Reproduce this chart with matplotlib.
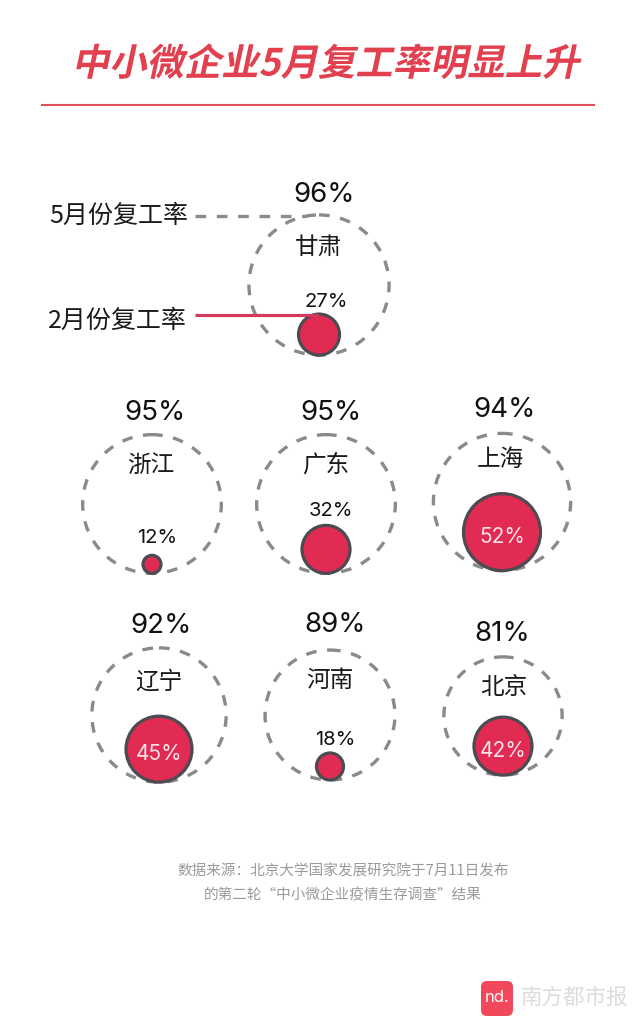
import matplotlib
matplotlib.use("Agg")
import matplotlib.pyplot as plt
from matplotlib.patches import Circle, FancyBboxPatch
from matplotlib.patheffects import AbstractPathEffect
from matplotlib.transforms import Affine2D

CJK = ['Noto Sans CJK SC', 'DejaVu Sans']
LAT = ['Inter', 'DejaVu Sans']

title = "中小微企业5月复工率明显上升"
cities = ["甘肃", "浙江", "广东", "上海", "辽宁", "河南", "北京"]
may = [96, 95, 95, 94, 92, 89, 81]
feb = [27, 12, 32, 52, 45, 18, 42]
legend_may = "5月份复工率"
legend_feb = "2月份复工率"
source = ["数据来源：北京大学国家发展研究院于7月11日发布", "的第二轮“中小微企业疫情生存调查”结果"]
brand = "南方都市报"

# layout (pixels)
cx = [319, 152, 326, 502, 159, 330, 503]
cy = [285, 504, 504, 502, 715, 715, 716]
may_lab = [(324, 195), (155, 413), (331, 413), (505, 410), (161, 626), (335, 625), (502, 634)]
city_lab = [(319, 247), (151, 465), (326, 465), (500, 459), (159, 682), (330, 680), (504, 687)]
inner_r = [20.5, 9, 24, 38.5, 33, 13.5, 29]
K = 0.73
RED, EDGE, GREY = '#e22b52', '#4e4a52', '#8a8a8a'
DASH = (0, (3.2, 3.2))

class Skew(AbstractPathEffect):
    def __init__(self, deg, y0):
        super().__init__()
        self.deg, self.y0 = deg, y0
    def draw_path(self, renderer, gc, tpath, affine, rgbFace=None):
        a = affine + Affine2D().translate(0, -self.y0).skew_deg(self.deg, 0).translate(0, self.y0)
        renderer.draw_path(gc, tpath, a, rgbFace)

fig = plt.figure(figsize=(6.4, 10.24), dpi=100, facecolor='white')
ax = fig.add_axes([0, 0, 1, 1])
ax.set_xlim(0, 640); ax.set_ylim(1024, 0); ax.axis('off')

ax.text(325, 64, title, family=CJK, fontsize=26.9, weight='bold', color='#e2404f',
        ha='center', va='center', path_effects=[Skew(12, 1024 - 78)])
ax.plot([41, 595], [105, 105], color='#e0505c', lw=1.5, solid_capstyle='butt')

for i, c in enumerate(cities):
    R = K * may[i]
    r = inner_r[i]
    ax.add_patch(Circle((cx[i], cy[i]), R, fill=False, ec=GREY, lw=2.4, ls=DASH, zorder=2))
    ccy = cy[i] + R - r
    ax.add_patch(Circle((cx[i], ccy), r, fc=RED, ec=EDGE, lw=2.3, zorder=3))
    ax.text(*may_lab[i], f"{may[i]}%", family=LAT, fontsize=20, color='#111111',
            ha='center', va='center', zorder=5)
    ax.text(*city_lab[i], c, family=CJK, fontsize=17, color='#1a1a1a',
            ha='center', va='center', zorder=5)
    if feb[i] >= 40:
        ax.text(cx[i], ccy + 5, f"{feb[i]}%", family=LAT, fontsize=15, color='#fbe3e8',
                ha='center', va='center', zorder=5)
    else:
        dy = {0: 12, 1: 17, 2: 14, 5: 13}[i]
        ax.text(cx[i] + 7 if i == 0 else cx[i] + 5, ccy - r - dy, f"{feb[i]}%", family=LAT,
                fontsize=14.5, color='#111111', ha='center', va='center', zorder=5)

ax.text(119, 216, legend_may, family=CJK, fontsize=18, color='#1a1a1a', ha='center', va='center')
ax.text(117, 321, legend_feb, family=CJK, fontsize=18, color='#1a1a1a', ha='center', va='center')
ax.plot([195, 306], [216, 216], color=GREY, lw=2.4, ls=DASH, zorder=4)
ax.plot([195, 318], [315, 315], color='#d13a5c', lw=2.3, solid_capstyle='butt', zorder=4)

ax.text(343, 871, source[0], family=CJK, fontsize=10.5, color='#9a9a9a', ha='center', va='center')
ax.text(343, 895, source[1], family=CJK, fontsize=10.5, color='#9a9a9a', ha='center', va='center')

ax.add_patch(FancyBboxPatch((485, 985), 24, 27, boxstyle='round,pad=4,rounding_size=6',
                            fc='#f2485c', ec='none'))
ax.text(497, 998, "nd.", family=LAT, fontsize=12, color='white', ha='center', va='center')
ax.text(574, 998, brand, family=CJK, fontsize=15.5, color='#dcdcdc', ha='center', va='center')

fig.savefig('out.png', dpi=100, facecolor='white')
